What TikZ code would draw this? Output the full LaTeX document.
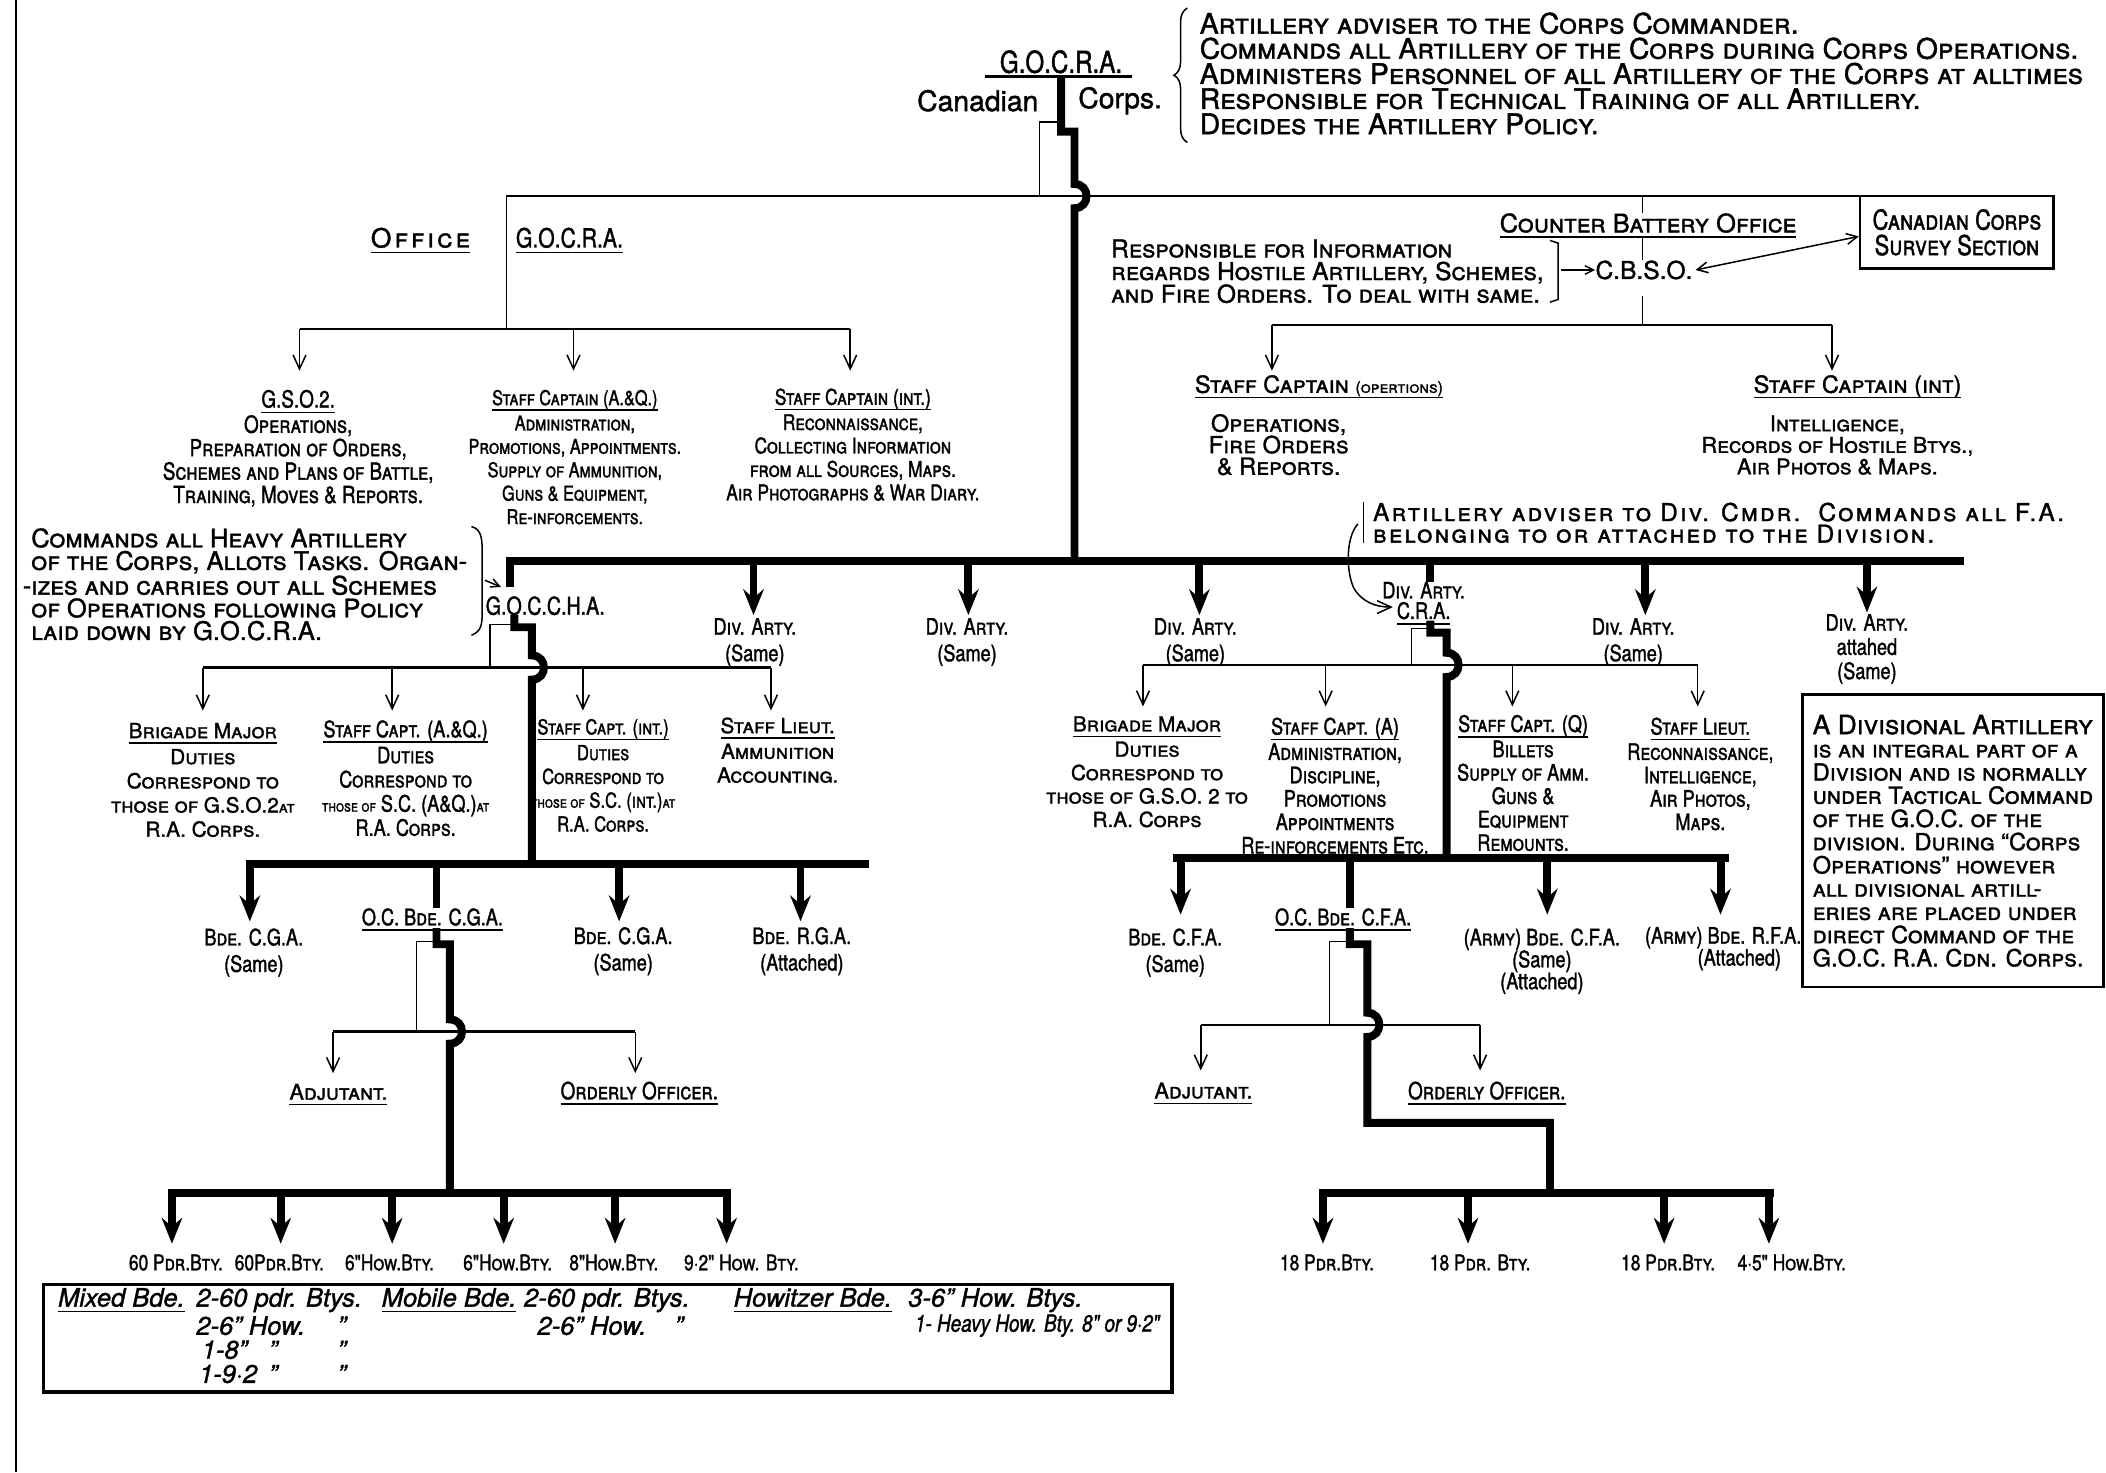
\documentclass[tikz,border=0pt]{standalone}
\usepackage{fontspec}
\setmainfont{TeX Gyre Heros}[FakeBold=1.4]
\newfontfamily\condfont[FakeStretch=0.8, FakeBold=1.4]{TeX Gyre Heros}
\usepackage{tikz}
\usetikzlibrary{arrows.meta}
\usetikzlibrary{decorations.pathreplacing}

\newcommand\fsz[2]{\fontsize{#1}{#2}\selectfont}
\newcommand\ulin[1]{\setbox0=\hbox{#1}\leavevmode\rlap{\rule[-3pt]{\wd0}{0.8pt}}\box0}
\newcommand\smw[1]{{\fsz{8.5}{8.5}#1}}

\begin{document}
\begin{tikzpicture}[x=0.25mm, y=-0.25mm,
    trunk/.style={line width=4.2pt},
    branch/.style={line width=1.3pt},
    hair/.style={line width=0.8pt},
    bigarr/.style={trunk, -{Stealth[length=4.8mm, width=3.8mm, inset=1.6mm]}},
    smallarr/.style={hair, -{Straight Barb[length=2.6mm, width=2.4mm]}},
    tinyarr/.style={hair, -{Straight Barb[length=1.6mm, width=1.6mm]}},
    lbl/.style={inner sep=0pt, align=center},
    memo/.style={inner sep=0pt, align=left, anchor=north west},
    staff/.style={lbl, anchor=north, font=\fsz{10}{12.4}\scshape},
    cstaff/.style={lbl, anchor=north, font=\condfont\fsz{11.5}{12.4}\scshape},
    unit/.style={lbl, anchor=north, font=\condfont\fsz{12}{14}\scshape},
    bty/.style={lbl, font=\condfont\fsz{11.5}{11.5}\scshape},
    bde/.style={inner sep=0pt, anchor=west, font=\itshape\fsz{13.5}{13.5}},
  ]
  \useasboundingbox (0,0) rectangle (1568,1096);
  \draw[branch] (12,0) -- (12,1096);

  \coordinate (T0) at (790,57);
  \coordinate (T1) at (790,98);
  \coordinate (T2) at (800,98);
  \coordinate (T3) at (800,137);
  \coordinate (T4) at (800,155);
  \coordinate (T5) at (800,418);

  \node[lbl, font=\condfont\fsz{16}{16}] (gocra) at (790,46) {G.O.C.R.A.};
  \draw[branch] (733,57) -- (843,57);
  \node[lbl, font=\fsz{15}{15}] (canadian) at (728,75) {Canadian};
  \node[lbl, font=\fsz{15}{15}] (corps) at (834,75) {Corps.};
  \node[memo, font=\fsz{15}{13.3}\scshape] (gnote) at (893,9)
    {Artillery adviser to the Corps Commander.\\
     Commands all Artillery of the Corps during Corps Operations.\\
     Administers Personnel of all Artillery of the Corps at alltimes\\
     Responsible for Technical Training of all Artillery.\\
     Decides the Artillery Policy.};
  \draw[hair, decorate, decoration={brace, amplitude=2.5mm}] (884,106) -- (884,6);

  \coordinate (L0) at (377,245);
  \coordinate (L1) at (377,146);
  \coordinate (L2) at (1529,146);
  \draw[hair] (L0) -- (L1) -- (L2);
  \draw[hair] (790,91) -- (774,91) -- (774,146);
  \draw[trunk] (T0) -- (T1) -- (T2) -- (T3) .. controls (812,137) and (812,155) .. (T4) -- (T5);

  \node[lbl, font=\fsz{14}{14}\scshape\addfontfeature{LetterSpace=12}] (office) at (313,179) {\ulin{Office}};
  \node[lbl, font=\condfont\fsz{14}{14}] (ogocra) at (424,179) {\ulin{G.O.C.R.A.}};

  \coordinate (OB1) at (223,245);
  \coordinate (OB2) at (427,245);
  \coordinate (OB3) at (633,245);
  \coordinate (OA1) at (223,276);
  \coordinate (OA2) at (427,276);
  \coordinate (OA3) at (633,276);
  \draw[branch] (OB1) -- (OB3);
  \draw[smallarr] (OB1) -- (OA1);
  \draw[smallarr] (OB2) -- (OA2);
  \draw[smallarr] (OB3) -- (OA3);

  \node[cstaff, font=\condfont\fsz{12.5}{12.4}\scshape] (gso) at (222,290) {\ulin{G.S.O.2.}\\[1pt] Operations,\\ Preparation of Orders,\\
    Schemes and Plans of Battle,\\ Training, Moves \& Reports.};
  \node[cstaff, font=\condfont\fsz{10.8}{12.4}\scshape] (scaq) at (428,290) {\ulin{Staff Captain (A.\&Q.)}\\[1pt] Administration,\\
    Promotions, Appointments.\\ Supply of Ammunition,\\ Guns \& Equipment,\\ Re-inforcements.};
  \node[cstaff] (scint) at (635,289) {\ulin{Staff Captain (int.)}\\[1pt] Reconnaissance,\\
    Collecting Information\\ from all Sources, Maps.\\ Air Photographs \& War Diary.};

  \coordinate (CB0) at (1223,146);
  \coordinate (CB1) at (947,242);
  \coordinate (CB2) at (1223,242);
  \coordinate (CB3) at (1364,242);
  \coordinate (CA1) at (947,276);
  \coordinate (CA3) at (1364,276);
  \coordinate (CBK) at (1162,201);
  \coordinate (SVin) at (1384,176);
  \node[lbl, font=\fsz{13.5}{13}\scshape] (cbo) at (1227,168) {\ulin{Counter Battery Office}};
  \node[lbl, font=\fsz{13}{13}] (cbso) at (1224,201) {C.B.S.O.};
  \node[lbl, draw, branch, minimum width=36mm, minimum height=13.5mm,
    font=\condfont\fsz{14.5}{13.5}\scshape] (survey) at (1457,173) {Canadian Corps\\ Survey Section};
  \node[memo, font=\fsz{13}{12}\scshape] (cbnote) at (827,178) {Responsible for Information\\
    regards Hostile Artillery, Schemes,\\ and Fire Orders. To deal with same.};
  \draw[hair] (1154,179) -- (1160,181) -- (1160,223) -- (1154,225);
  \draw[hair] (CB0) -- (CB0 |- cbo.north);
  \draw[hair] (cbo.south -| CB0) -- (cbso.north -| CB0);
  \draw[hair, shorten <=3mm] (cbso.south -| CB2) -- (CB2);
  \draw[tinyarr] (CBK) -- (cbso.west);
  \draw[hair, {Straight Barb[length=2mm, width=2mm]}-{Straight Barb[length=2mm, width=2mm]}]
    ([xshift=0.5mm]cbso.east) -- (SVin);
  \draw[branch] (CB1) -- (CB3);
  \draw[smallarr] (CB1) -- (CA1);
  \draw[smallarr] (CB3) -- (CA3);

  \node[lbl, font=\fsz{12.5}{12}\scshape] (scops) at (982,288) {\ulin{Staff Captain {\fsz{8.5}{8}(opertions)}}};
  \node[staff, font=\fsz{12.5}{11.4}\scshape] (scopsb) at (952,308) {Operations,\\ Fire Orders\\ \& Reports.};
  \node[lbl, font=\fsz{12.5}{12}\scshape] (scin) at (1383,288) {\ulin{Staff Captain (int)}};
  \node[staff, font=\fsz{11.5}{11.4}\scshape] (scinb) at (1368,309) {Intelligence,\\
    Records of Hostile Btys.,\\ Air Photos \& Maps.};

  \coordinate (D0) at (380,437);
  \coordinate (D1) at (380,418);
  \coordinate (D2) at (1462,418);
  \coordinate (DA1) at (561,418);
  \coordinate (DA2) at (721,418);
  \coordinate (DA3) at (893,418);
  \coordinate (DA4) at (1225,418);
  \coordinate (DA5) at (1390,418);
  \coordinate (DA6) at (1065,418);
  \coordinate (DE1) at (561,458);
  \coordinate (DE2) at (721,458);
  \coordinate (DE3) at (893,458);
  \coordinate (DE4) at (1225,458);
  \coordinate (DE5) at (1390,456);
  \draw[trunk] (D0) -- (D1) -- (D2);
  \draw[bigarr] (DA1) -- (DE1);
  \draw[bigarr] (DA2) -- (DE2);
  \draw[bigarr] (DA3) -- (DE3);
  \draw[bigarr] (DA4) -- (DE4);
  \draw[bigarr] (DA5) -- (DE5);

  \node[unit] (dv1) at (562,460) {Div. Arty.\\ {\upshape (Same)}};
  \node[unit] (dv2) at (720,460) {Div. Arty.\\ {\upshape (Same)}};
  \node[unit] (dv3) at (890,460) {Div. Arty.\\ {\upshape (Same)}};
  \node[unit] (dv4) at (1216,460) {Div. Arty.\\ {\upshape (Same)}};
  \node[unit, font=\condfont\fsz{12}{12.8}\scshape] (dv5) at (1390,457) {Div. Arty.\\ {\upshape attahed}\\ {\upshape (Same)}};
  \node[unit, font=\condfont\fsz{12}{10.8}\scshape] (cra) at (1060,433) {Div. Arty.\\ \ulin{C.R.A.}};
  \draw[trunk] (DA6) -- (DA6 |- cra.north);

  \node[memo, font=\fsz{13}{11.4}\scshape\addfontfeature{LetterSpace=9}] (divnote) at (1022,374) {Artillery adviser to Div. Cmdr.\ \ Commands all F.A.\\
    belonging to or attached to the Division.};
  \coordinate (CRAin) at (1037,452);
  \draw[hair] (1015,374) -- (1015,404);
  \draw[smallarr] (1011,390) .. controls (1002,400) and (1002,425) .. (1008,438) .. controls (1014,448) and (1024,452) .. (CRAin);

  \node[memo, font=\fsz{13.5}{12}\scshape] (hanote) at (23,393) {Commands all Heavy Artillery\\
    of the Corps, Allots Tasks. Organ-\\ \llap{-}izes and carries out all Schemes\\
    of Operations following Policy\\ laid down by G.O.C.R.A.};
  \draw[hair] (351,392) .. controls (358,394) and (359,400) .. (359,410) -- (359,456) .. controls (359,466) and (358,470) .. (351,473);
  \draw[tinyarr] (361,432) -- (373,437);
  \node[lbl, font=\condfont\fsz{13}{13}] (goccha) at (406,451) {G.O.C.C.H.A.};

  \coordinate (H0) at (383,458);
  \coordinate (H1) at (383,467);
  \coordinate (H2) at (396,467);
  \coordinate (H3) at (396,488);
  \coordinate (H4) at (396,506);
  \coordinate (H5) at (396,643);
  \draw[hair] (383,465) -- (365,465) -- (365,497);
  \coordinate (HB1) at (151,497);
  \coordinate (HB2) at (292,497);
  \coordinate (HB3) at (434,497);
  \coordinate (HB4) at (574,497);
  \coordinate (HE1) at (151,529);
  \coordinate (HE2) at (292,529);
  \coordinate (HE3) at (434,529);
  \coordinate (HE4) at (574,529);
  \draw[branch] (HB1) -- (HB4);
  \draw[trunk] (H0) -- (H1) -- (H2) -- (H3) .. controls (408,488) and (408,506) .. (H4) -- (H5);
  \draw[smallarr] (HB1) -- (HE1);
  \draw[smallarr] (HB2) -- (HE2);
  \draw[smallarr] (HB3) -- (HE3);
  \draw[smallarr] (HB4) -- (HE4);

  \node[staff, font=\fsz{11}{12.8}\scshape] (bmH) at (151,538) {\ulin{Brigade Major}\\[1pt] Duties\\
    Correspond to\\ those of G.S.O.2\smw{at}\\ R.A. Corps.};
  \node[staff, font=\condfont\fsz{12}{12.8}\scshape] (scaqH) at (302,536) {\ulin{Staff Capt. (A.\&Q.)}\\[1pt] Duties\\
    Correspond to\\ \smw{those of} S.C. (A\&Q.)\smw{at}\\ R.A. Corps.};
  \node[staff, font=\condfont\fsz{11}{12.6}\scshape] (scintH) at (449,535) {\ulin{Staff Capt. (int.)}\\[1pt] Duties\\
    Correspond to\\ \smw{those of} S.C. (int.)\smw{at}\\ R.A. Corps.};
  \node[staff, font=\fsz{11}{12.6}\scshape] (slH) at (579,534) {\ulin{Staff Lieut.}\\[1pt] Ammunition\\ Accounting.};

  \coordinate (HG0) at (183,643);
  \coordinate (HG1) at (647,643);
  \coordinate (HG2) at (186,643);
  \coordinate (HG3) at (325,643);
  \coordinate (HG4) at (461,643);
  \coordinate (HG5) at (596,643);
  \coordinate (HN2) at (186,686);
  \coordinate (HN4) at (461,686);
  \coordinate (HN5) at (596,686);
  \draw[trunk] (HG0) -- (HG1);
  \draw[bigarr] (HG2) -- (HN2);
  \draw[bigarr] (HG4) -- (HN4);
  \draw[bigarr] (HG5) -- (HN5);

  \node[unit] (bcga1) at (189,691) {Bde. C.G.A.\\ {\upshape (Same)}};
  \node[unit] (ocga) at (322,676) {\ulin{O.C. Bde. C.G.A.}};
  \node[unit] (bcga2) at (464,690) {Bde. C.G.A.\\ {\upshape (Same)}};
  \node[unit] (brga) at (597,690) {Bde. R.G.A.\\ {\upshape (Attached)}};
  \draw[trunk] (HG3) -- (HG3 |- ocga.north);

  \coordinate (K0) at (325,691);
  \coordinate (K1) at (325,703);
  \coordinate (K2) at (335,703);
  \coordinate (K3) at (335,759);
  \coordinate (K4) at (335,777);
  \coordinate (K5) at (335,888);
  \coordinate (KB1) at (248,768);
  \coordinate (KB2) at (473,768);
  \coordinate (KE1) at (248,799);
  \coordinate (KE2) at (473,799);
  \draw[hair] (325,701) -- (310,701) -- (310,768);
  \draw[branch] (KB1) -- (KB2);
  \draw[trunk] (K0) -- (K1) -- (K2) -- (K3) .. controls (347,759) and (347,777) .. (K4) -- (K5);
  \draw[smallarr] (KB1) -- (KE1);
  \draw[smallarr] (KB2) -- (KE2);
  \node[lbl, font=\fsz{11.5}{11.5}\scshape] (adjH) at (252,815) {\ulin{Adjutant.}};
  \node[lbl, font=\condfont\fsz{12.5}{12.5}\scshape] (ooH) at (476,814) {\ulin{Orderly Officer.}};

  \coordinate (B0) at (125,888);
  \coordinate (B7) at (544,888);
  \coordinate (B1) at (128,888);
  \coordinate (B2) at (209,888);
  \coordinate (B3) at (292,888);
  \coordinate (B4) at (375,888);
  \coordinate (B5) at (458,888);
  \coordinate (B6) at (541,888);
  \coordinate (BE1) at (128,926);
  \coordinate (BE2) at (209,926);
  \coordinate (BE3) at (292,926);
  \coordinate (BE4) at (375,926);
  \coordinate (BE5) at (458,926);
  \coordinate (BE6) at (541,926);
  \draw[trunk] (B0) -- (B7);
  \draw[bigarr] (B1) -- (BE1);
  \draw[bigarr] (B2) -- (BE2);
  \draw[bigarr] (B3) -- (BE3);
  \draw[bigarr] (B4) -- (BE4);
  \draw[bigarr] (B5) -- (BE5);
  \draw[bigarr] (B6) -- (BE6);
  \node[bty] (hb1) at (131,940) {60 Pdr.Bty.};
  \node[bty] (hb2) at (208,940) {60Pdr.Bty.};
  \node[bty] (hb3) at (290,940) {6"How.Bty.};
  \node[bty] (hb4) at (378,940) {6"How.Bty.};
  \node[bty] (hb5) at (457,940) {8"How.Bty.};
  \node[bty] (hb6) at (552,940) {9·2" How. Bty.};

  \coordinate (R0) at (1065,462);
  \coordinate (R1) at (1065,471);
  \coordinate (R2) at (1077,471);
  \coordinate (R3) at (1077,486);
  \coordinate (R4) at (1077,504);
  \coordinate (R5) at (1077,639);
  \coordinate (RB1) at (851,495);
  \coordinate (RB2) at (987,495);
  \coordinate (RB3) at (1126,495);
  \coordinate (RB4) at (1264,495);
  \coordinate (RE1) at (851,526);
  \coordinate (RE2) at (987,526);
  \coordinate (RE3) at (1126,526);
  \coordinate (RE4) at (1264,526);
  \draw[hair] (1065,468) -- (1051,468) -- (1051,495);
  \draw[branch] (RB1) -- (RB4);
  \draw[trunk] (R0) -- (R1) -- (R2) -- (R3) .. controls (1089,486) and (1089,504) .. (R4) -- (R5);
  \draw[smallarr] (RB1) -- (RE1);
  \draw[smallarr] (RB2) -- (RE2);
  \draw[smallarr] (RB3) -- (RE3);
  \draw[smallarr] (RB4) -- (RE4);

  \node[staff, font=\fsz{11}{12.4}\scshape] (bmC) at (854,533) {\ulin{Brigade Major}\\[1pt] Duties\\
    Correspond to\\ those of G.S.O. 2 to\\ R.A. Corps};
  \node[staff, font=\condfont\fsz{12}{12.4}\scshape] (scaC) at (994,534) {\ulin{Staff Capt. (A)}\\[1pt] Administration,\\
    Discipline,\\ Promotions\\ Appointments\\ Re-inforcements Etc.};
  \node[staff, font=\condfont\fsz{12}{12.4}\scshape] (scqC) at (1134,532) {\ulin{Staff Capt. (Q)}\\[1pt] Billets\\
    Supply of Amm.\\ Guns \&\\ Equipment\\ Remounts.};
  \node[staff, font=\condfont\fsz{12}{12.4}\scshape] (slC) at (1266,534) {\ulin{Staff Lieut.}\\[1pt] Reconnaissance,\\
    Intelligence,\\ Air Photos,\\ Maps.};

  \coordinate (FG0) at (873,639);
  \coordinate (FG1) at (1287,639);
  \coordinate (FG2) at (879,639);
  \coordinate (FG3) at (1005,639);
  \coordinate (FG4) at (1152,639);
  \coordinate (FG5) at (1281,639);
  \coordinate (FN2) at (879,681);
  \coordinate (FN4) at (1152,681);
  \coordinate (FN5) at (1281,681);
  \draw[trunk] (FG0) -- (FG1);
  \draw[bigarr] (FG2) -- (FN2);
  \draw[bigarr] (FG4) -- (FN4);
  \draw[bigarr] (FG5) -- (FN5);

  \node[unit] (bcfa) at (875,691) {Bde. C.F.A.\\ {\upshape (Same)}};
  \node[unit] (ocfa) at (1000,676) {\ulin{O.C. Bde. C.F.A.}};
  \node[unit, font=\condfont\fsz{12}{11.6}\scshape] (abcfa) at (1148,691) {(Army) Bde. C.F.A.\\ {\upshape (Same)}\\ {\upshape (Attached)}};
  \node[unit, font=\condfont\fsz{12}{11.6}\scshape] (abrfa) at (1283,690) {(Army) Bde. R.F.A.\\ \hspace*{6mm}{\upshape (Attached)}};
  \draw[trunk] (FG3) -- (FG3 |- ocfa.north);

  \coordinate (F0) at (1005,691);
  \coordinate (F1) at (1005,703);
  \coordinate (F2) at (1018,703);
  \coordinate (F3) at (1018,754);
  \coordinate (F4) at (1018,772);
  \coordinate (F5) at (1018,836);
  \coordinate (F6) at (1154,836);
  \coordinate (F7) at (1154,888);
  \coordinate (FB1) at (894,763);
  \coordinate (FB2) at (1102,763);
  \coordinate (FE1) at (894,797);
  \coordinate (FE2) at (1102,797);
  \draw[hair] (1005,701) -- (990,701) -- (990,763);
  \draw[branch] (FB1) -- (FB2);
  \draw[trunk] (F0) -- (F1) -- (F2) -- (F3) .. controls (1030,754) and (1030,772) .. (F4) -- (F5) -- (F6) -- (F7);
  \draw[smallarr] (FB1) -- (FE1);
  \draw[smallarr] (FB2) -- (FE2);
  \node[lbl, font=\fsz{11.5}{11.5}\scshape] (adjF) at (896,814) {\ulin{Adjutant.}};
  \node[lbl, font=\condfont\fsz{12.5}{12.5}\scshape] (ooF) at (1107,814) {\ulin{Orderly Officer.}};

  \coordinate (G0) at (982,888);
  \coordinate (G5) at (1321,888);
  \coordinate (G1) at (985,888);
  \coordinate (G2) at (1093,888);
  \coordinate (G3) at (1239,888);
  \coordinate (G4) at (1317,888);
  \coordinate (GE1) at (985,926);
  \coordinate (GE2) at (1093,926);
  \coordinate (GE3) at (1239,926);
  \coordinate (GE4) at (1317,926);
  \draw[trunk] (G0) -- (G5);
  \draw[bigarr] (G1) -- (GE1);
  \draw[bigarr] (G2) -- (GE2);
  \draw[bigarr] (G3) -- (GE3);
  \draw[bigarr] (G4) -- (GE4);
  \node[bty] (fb1) at (988,940) {18 Pdr.Bty.};
  \node[bty] (fb2) at (1102,940) {18 Pdr. Bty.};
  \node[bty] (fb3) at (1242,940) {18 Pdr.Bty.};
  \node[bty] (fb4) at (1334,940) {4·5" How.Bty.};

  \node[lbl, draw, branch, minimum width=56mm, minimum height=54.5mm, align=left,
    font=\fsz{12.5}{12.3}\scshape] (divbox) at (1454,626)
    {{\fsz{14}{12.3}A Divisional Artillery}\\ is an integral part of a\\ Division and is normally\\
     under Tactical Command\\ of the G.O.C. of the\\ division. During “Corps\\ Operations” however\\
     all divisional artill-\\ eries are placed under\\ direct Command of the\\ G.O.C. R.A. Cdn. Corps.};

  \node[draw, line width=2pt, minimum width=210mm, minimum height=20mm, anchor=north west,
    inner sep=0pt] (bdebox) at (31,955) {};
  \node[bde] (mx1) at (43,968) {\ulin{Mixed Bde.}};
  \node[bde] (mx2) at (146,968) {2-60 pdr. Btys.};
  \node[bde] (mx3) at (146,987) {2-6" How.};
  \node[bde] (mx4) at (150,1005) {1-8"};
  \node[bde] (mx5) at (148,1023) {1-9·2};
  \node[bde] (dt1) at (251,987) {''};
  \node[bde] (dt2) at (200,1005) {''};
  \node[bde] (dt3) at (251,1005) {''};
  \node[bde] (dt4) at (200,1023) {''};
  \node[bde] (dt5) at (251,1023) {''};
  \node[bde] (mb1) at (284,968) {\ulin{Mobile Bde.}};
  \node[bde] (mb2) at (390,968) {2-60 pdr. Btys.};
  \node[bde] (mb3) at (400,987) {2-6" How.};
  \node[bde] (dt6) at (502,987) {''};
  \node[bde] (hz1) at (546,968) {\ulin{Howitzer Bde.}};
  \node[bde] (hz2) at (676,968) {3-6" How. Btys.};
  \node[bde, font=\condfont\itshape\fsz{12.5}{12}] (hz3) at (681,987) {1- Heavy How. Bty. 8" or 9·2"};
\end{tikzpicture}
\end{document}
